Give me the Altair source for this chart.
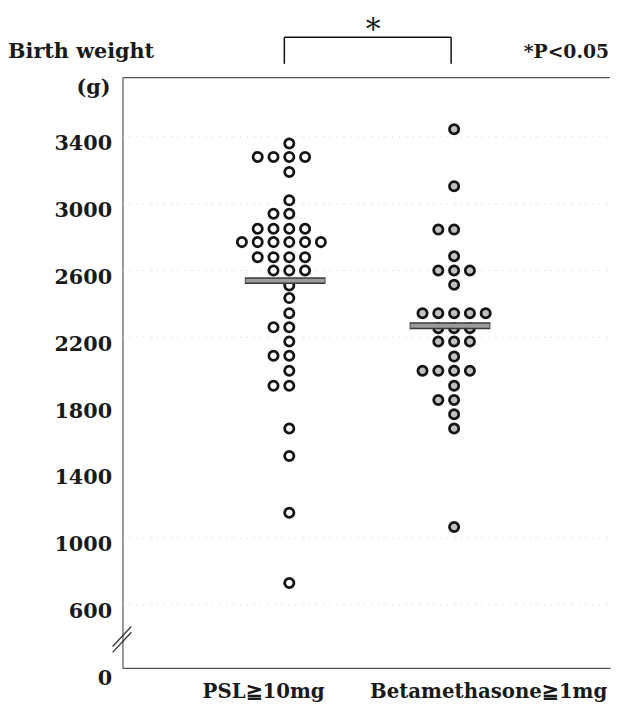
import altair as alt
import pandas as pd

# ---------------- data ----------------
categories = ["PSL≧10mg", "Betamethasone≧1mg"]
psl_weights = [3360, 3280, 3280, 3280, 3280, 3190, 3020, 2940, 2940,
               2850, 2850, 2850, 2850, 2770, 2770, 2770, 2770, 2770, 2770,
               2680, 2680, 2680, 2680, 2600, 2600, 2600, 2510, 2435, 2345,
               2260, 2260, 2175, 2090, 2090, 2000, 1910, 1910, 1655, 1490,
               1150, 730]
beta_weights = [3445, 3105, 2845, 2845, 2685, 2600, 2600, 2600, 2515,
                2345, 2345, 2345, 2345, 2345, 2255, 2255, 2255, 2175, 2175,
                2175, 2085, 2000, 2000, 2000, 2000, 1910, 1825, 1825, 1740,
                1655, 1065]
y_tick_values = [600, 1000, 1400, 1800, 2200, 2600, 3000, 3400]
grid_values = [600, 1000, 2200, 2600, 3000, 3400]
title_text = "Birth weight"
unit_text = "(g)"
p_text = "*P<0.05"
star_text = "*"

# ---------------- layout helpers ----------------
W, H = 494, 598
PX_PER_UNIT = 167.0
Y_MIN, Y_MAX = 222, 3754
X_MIN = -0.012
X_MAX = X_MIN + W / PX_PER_UNIT
DOT_STEP = 16.0 / PX_PER_UNIT
FONT = "DejaVu Serif"

rows = []
for gi, (cat, vals) in enumerate(zip(categories, [psl_weights, beta_weights])):
    counts = {}
    for v in vals:
        counts[v] = counts.get(v, 0) + 1
    for v, n in counts.items():
        for o in range(-(n // 2), n - n // 2):
            rows.append({"group": cat, "gidx": gi + 1, "weight": v,
                         "xpos": gi + 1 + o * DOT_STEP})
dots_df = pd.DataFrame(rows)

xscale = alt.Scale(domain=[X_MIN, X_MAX], nice=False, zero=False)
yscale = alt.Scale(domain=[Y_MIN, Y_MAX], nice=False, zero=False)

x_axis = alt.Axis(labels=False, ticks=False, grid=False, title=None,
                  domainColor="#555", domainWidth=1.2)
y_axis = alt.Axis(values=[Y_MIN] + y_tick_values, format="d",
                  labelExpr="datum.value < 400 ? '0' : datum.label",
                  ticks=False, grid=False, title=None, domainColor="#555",
                  domainWidth=1.2, labelFont=FONT, labelFontWeight="bold",
                  labelFontSize=21, labelColor="#1a1a1a", labelPadding=11,
                  labelOffset={"condition": {"test": "datum.value < 400", "value": 11},
                               "value": 7},
                  labelOverlap=False)

base = alt.Chart(dots_df)

grid = alt.Chart(pd.DataFrame({"g": grid_values})).mark_rule(
    color="#d0d0d0", strokeDash=[1, 6], strokeWidth=1
).encode(y=alt.Y("g:Q", scale=yscale, axis=y_axis), x=alt.value(0), x2=alt.value(W))

dots = base.mark_point(
    shape="circle", size=88, stroke="#151515", strokeWidth=2.8,
    opacity=1, fillOpacity=1
).encode(
    x=alt.X("xpos:Q", scale=xscale, axis=x_axis),
    y=alt.Y("weight:Q", scale=yscale, axis=y_axis),
    fill=alt.Fill("group:N", scale=alt.Scale(domain=categories,
                                            range=["#ffffff", "#c2c2c2"]),
                  legend=None),
)

mean_base = base.transform_aggregate(
    mean_w="mean(weight)", groupby=["group", "gidx"]
).transform_calculate(
    x1="datum.gidx - 0.27", x2="datum.gidx + 0.22",
    x1i="datum.gidx - 0.265", x2i="datum.gidx + 0.215"
)
mean_outer = mean_base.mark_rule(color="#3a3a3a", strokeWidth=7).encode(
    x=alt.X("x1:Q", scale=xscale), x2="x2:Q", y=alt.Y("mean_w:Q", scale=yscale))
mean_inner = mean_base.mark_rule(color="#9c9c9c", strokeWidth=4).encode(
    x=alt.X("x1i:Q", scale=xscale), x2="x2i:Q", y=alt.Y("mean_w:Q", scale=yscale))

# bracket for the significance mark (in data units above the plot)
br_df = pd.DataFrame({"xa": [0.97, 0.97, 1.982], "xb": [1.982, 0.97, 1.982],
                      "ya": [3996, 3996, 3996], "yb": [3996, 3837, 3837]})
bracket = alt.Chart(br_df).mark_rule(color="#111", strokeWidth=1.5).encode(
    x=alt.X("xa:Q", scale=xscale), x2="xb:Q",
    y=alt.Y("ya:Q", scale=yscale), y2="yb:Q")

# axis break marks
brk_df = pd.DataFrame({"ya": [350, 315], "yb": [470, 435]})
breaks = alt.Chart(brk_df).mark_rule(color="#333", strokeWidth=1.3).encode(
    x=alt.value(-10), x2=alt.value(9),
    y=alt.Y("ya:Q", scale=yscale), y2="yb:Q")

top_line = alt.Chart(pd.DataFrame({"t": [0]})).mark_rule(
    color="#555", strokeWidth=1.2
).encode(y=alt.value(0), x=alt.value(0), x2=alt.value(W))


def text_layer(txt, x, y, size=21, align="center", weight="bold",
               baseline="middle"):
    return alt.Chart(pd.DataFrame({"t": [txt]})).mark_text(
        font=FONT, fontSize=size, fontWeight=weight, align=align,
        baseline=baseline, color="#1a1a1a"
    ).encode(x=alt.value(x), y=alt.value(y), text="t:N")


texts = [
    text_layer(title_text, -116, -26, align="left"),
    text_layer(unit_text, -12, 11, align="right"),
    text_layer(p_text, 493, -26, size=19, align="right"),
    text_layer(star_text, 254, -48, size=30, weight="normal"),
    text_layer(categories[0], 143, 629, size=20, baseline="alphabetic"),
    text_layer(categories[1], 371, 629, size=20, baseline="alphabetic"),
]

chart = alt.layer(grid, dots, mean_outer, mean_inner, bracket, breaks,
                  top_line, *texts).properties(
    width=W, height=H,
    autosize=alt.AutoSizeParams(type="none"),
    padding={"left": 116, "top": 66, "right": 3, "bottom": 34},
    background="white",
).configure_view(stroke=None)

chart.save("out.html", embed_options={"renderer": "svg", "actions": False})
